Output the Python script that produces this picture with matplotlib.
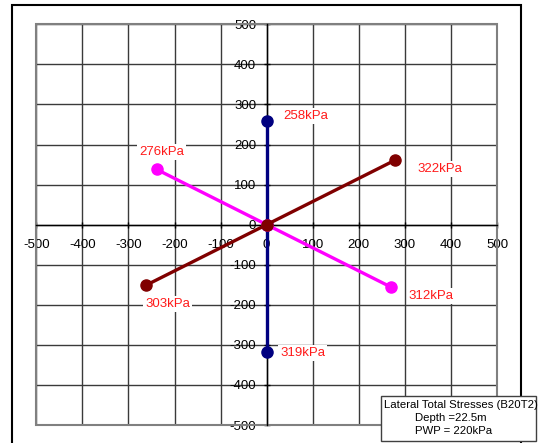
import numpy as np
import matplotlib
matplotlib.use("Agg")
import matplotlib.pyplot as plt
from matplotlib.patches import Rectangle

plt.rcParams['font.family'] = ['Liberation Sans', 'DejaVu Sans']
plt.rcParams['axes.unicode_minus'] = False

# Lateral total stresses (kPa) and their directions (degrees from +x axis)
blue_kpa = [258, 319]
blue_dir = [90, 270]
magenta_kpa = [276, 312]
magenta_dir = [150, 330]
red_kpa = [322, 303]
red_dir = [30, 210]

axis_ticks = list(range(-500, 501, 100))
note_lines = ["Lateral Total Stresses (B20T2)", "Depth =22.5m", "PWP = 220kPa"]

W, H = 542, 443
fig = plt.figure(figsize=(W / 100, H / 100), dpi=100)


def fx(px):
    return px / W


def fy(py):
    return 1 - py / H


left, right, top, bottom = 36.3, 497.0, 24.3, 425.0
ax = fig.add_axes([fx(left), fy(bottom), (right - left) / W, (bottom - top) / H])
ax.set_xlim(-500, 500)
ax.set_ylim(-500, 500)
ax.set_xticks(axis_ticks)
ax.set_yticks(axis_ticks)
ax.grid(True, color='#3a3a3a', lw=1.0)
ax.set_axisbelow(True)

for s in ['left', 'bottom']:
    ax.spines[s].set_position(('data', 0))
    ax.spines[s].set_color('black')
    ax.spines[s].set_linewidth(1.0)
for s in ['top', 'right']:
    ax.spines[s].set_visible(False)

ax.add_patch(Rectangle((0, 0), 1, 1, transform=ax.transAxes, fill=False,
                       edgecolor='#808080', lw=1.5, clip_on=False, zorder=1))

ax.tick_params(axis='both', direction='inout', length=5, width=1,
               labelsize=9.5, colors='black')
ax.tick_params(axis='x', pad=8)
ax.tick_params(axis='y', pad=5)


def polar(mag, ang):
    a = np.radians(ang)
    return np.array(mag) * np.cos(a), np.array(mag) * np.sin(a)


label_offsets = {
    258: (39, 5), 319: (36, -1),
    276: (5, 17), 312: (40, -9),
    322: (45, -9), 303: (22, -19),
}

for mags, dirs, col in [(blue_kpa, blue_dir, '#000080'),
                        (magenta_kpa, magenta_dir, '#FF00FF'),
                        (red_kpa, red_dir, '#800000')]:
    x, y = polar(mags, dirs)
    xs = [x[0], 0, x[1]]
    ys = [y[0], 0, y[1]]
    ax.plot(xs, ys, color=col, lw=2.4, marker='o', markersize=8,
            markerfacecolor=col, markeredgecolor=col, zorder=3, clip_on=False)
    for m, xi, yi in zip(mags, x, y):
        dx, dy = label_offsets[m]
        ax.annotate(f"{m}kPa", (xi, yi), xytext=(dx, dy),
                    textcoords='offset pixels', ha='center', va='center',
                    color='#FF1A1A', fontsize=9.5, zorder=4,
                    bbox=dict(boxstyle='square,pad=0.15', fc='white', ec='none'))

# outer chart frame
fig.add_artist(Rectangle((fx(12.4), fy(470)), (520.6 - 12.4) / W, (470 - 5) / H,
                         transform=fig.transFigure, fill=False, ec='black',
                         lw=1.5, zorder=5))

# note box in the lower right corner
fig.add_artist(Rectangle((fx(381), fy(441)), (536 - 381) / W, (441 - 396) / H,
                         transform=fig.transFigure, fc='white', ec='#404040',
                         lw=1.0, zorder=6))
fig.text(fx(384), fy(404.5), note_lines[0], ha='left', va='center',
         fontsize=8.2, zorder=7)
fig.text(fx(415), fy(418), note_lines[1], ha='left', va='center',
         fontsize=8.2, zorder=7)
fig.text(fx(415), fy(431.5), note_lines[2], ha='left', va='center',
         fontsize=8.2, zorder=7)

fig.savefig("out.png", dpi=100)
